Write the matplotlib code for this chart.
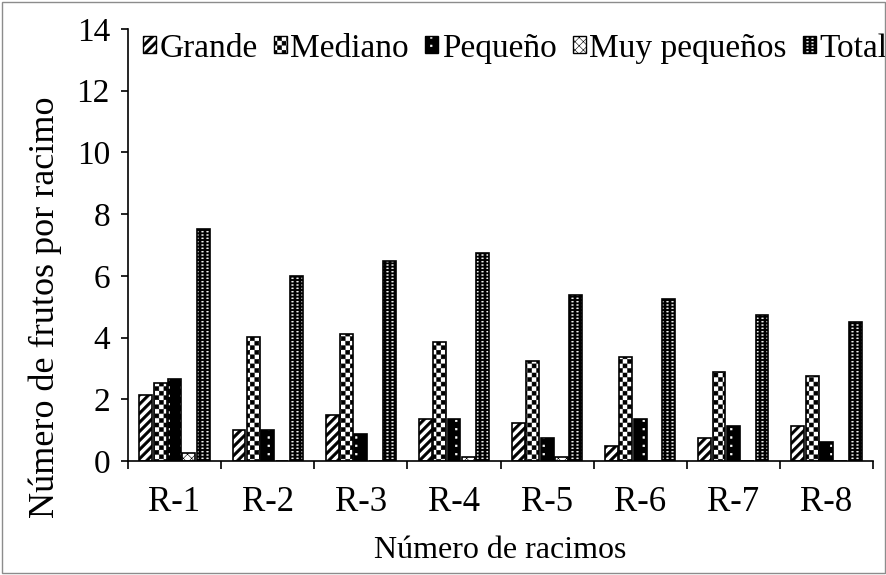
import numpy as np
import matplotlib
matplotlib.use('Agg')
import matplotlib.pyplot as plt
import matplotlib.hatch as mhatch
import matplotlib.patches as mpatches
from matplotlib.path import Path

# data
racimos = ['R-1', 'R-2', 'R-3', 'R-4', 'R-5', 'R-6', 'R-7', 'R-8']
grande = [2.14, 1.0, 1.50, 1.37, 1.24, 0.50, 0.76, 1.12]
mediano = [2.52, 4.01, 4.11, 3.87, 3.25, 3.38, 2.87, 2.74]
pequeno = [2.65, 1.0, 0.88, 1.37, 0.76, 1.37, 1.12, 0.63]
muy_pequenos = [0.25, 0.0, 0.0, 0.13, 0.13, 0.0, 0.0, 0.0]
total = [7.51, 6.0, 6.49, 6.75, 5.37, 5.26, 4.74, 4.49]
series_names = ['Grande', 'Mediano', 'Pequeño', 'Muy pequeños', 'Total']

DPI = 100
plt.rcParams['font.family'] = ['Liberation Serif', 'DejaVu Serif']
plt.rcParams['font.size'] = 24
plt.rcParams['hatch.linewidth'] = 0.4


# --- filled hatch patterns (Excel-like), hooked in place of the unused 'O' hatch ---
# the number of 'O' in the hatch string picks the pattern
def quad(x0, y0, x1, y1):
    return [(x0, y0), (x1, y0), (x1, y1), (x0, y1)]


def checker(n=22):
    s = 1.0 / n
    return [quad(i * s, j * s, (i + 1) * s, (j + 1) * s)
            for i in range(n) for j in range(n) if (i + j) % 2 == 0]


def stripes(n=11, w=0.035):
    polys = []
    for k in range(-n, n + 1):
        c = k / n
        polys.append([(-0.1, -0.1 + c), (1.1, 1.1 + c), (1.1, 1.1 + c + w), (-0.1, -0.1 + c + w)])
    return polys


def square_dots(nx, ny, sx, sy):
    return [quad((i + 0.5) / nx - sx / 2, (j + 0.5) / ny - sy / 2,
                 (i + 0.5) / nx + sx / 2, (j + 0.5) / ny + sy / 2)
            for i in range(nx) for j in range(ny)]


PATTERNS = {
    1: stripes,
    2: checker,
    3: lambda: square_dots(8, 12, 0.022, 0.022),
    4: lambda: square_dots(20, 30, 0.02, 0.014),
}


class FilledHatch(mhatch.HatchPatternBase):
    def __init__(self, hatch, density):
        make = PATTERNS.get(hatch.count('O'))
        self.polys = make() if make else []
        self.num_vertices = 5 * len(self.polys)

    def set_vertices_and_codes(self, vertices, codes):
        # the outline stroke widens the shapes, pull them in by half a line width
        d = plt.rcParams['hatch.linewidth'] / 72.0 / 2.0
        out = []
        for p in self.polys:
            p = np.array(p, dtype=float)
            c = p.mean(axis=0)
            p = p + np.sign(c - p) * d
            out.append(np.vstack([p, p[:1]]))
        vertices[:] = np.concatenate(out)
        codes[:] = np.tile([Path.MOVETO, Path.LINETO, Path.LINETO,
                            Path.LINETO, Path.CLOSEPOLY], len(self.polys))


mhatch._hatch_types[:] = [FilledHatch if t is mhatch.LargeCircles else t
                          for t in mhatch._hatch_types]

# (face colour, hatch colour, hatch)
styles = [('white', 'black', 'O'),
          ('white', 'black', 'OO'),
          ('black', 'white', 'OOO'),
          ('white', 'black', 'xxxx'),
          ('black', 'white', 'OOOO')]

fig = plt.figure(figsize=(8.87, 5.75), dpi=DPI)
ax = fig.add_axes([0.1443, 0.1983, 0.8400, 0.7513])

x = np.arange(len(racimos))
step = 0.154
width = 0.138
data = [grande, mediano, pequeno, muy_pequenos, total]
handles = []
for i, (vals, (fc, hc, h)) in enumerate(zip(data, styles)):
    pos = x + (i - 2) * step
    ax.bar(pos, vals, width, facecolor=fc, edgecolor=hc, linewidth=0, hatch=h)
    ax.bar(pos, vals, width, fill=False, edgecolor='black', linewidth=1.2)
    handles.append((mpatches.Patch(facecolor=fc, edgecolor=hc, linewidth=0, hatch=h),
                    mpatches.Patch(fill=False, edgecolor='black', linewidth=1.0)))

ax.set_xlim(-0.5, len(racimos) - 0.5)
ax.set_ylim(0, 14)
ax.set_yticks(np.arange(0, 15, 2))
ax.set_xticks(x)
ax.set_xticklabels(racimos, fontsize=25)
ax.set_xticks(np.arange(-0.5, len(racimos)), minor=True)
ax.tick_params(axis='x', which='major', length=0, pad=18)
ax.tick_params(axis='x', which='minor', length=6, width=1.2, direction='out')
ax.tick_params(axis='y', length=5, width=1.2, direction='out', pad=8)
for side in ['top', 'right']:
    ax.spines[side].set_visible(False)
for side in ['left', 'bottom']:
    ax.spines[side].set_linewidth(1.2)

ax.set_xlabel('Número de racimos', fontsize=23, labelpad=12)
ax.set_ylabel('Número de frutos por racimo', fontsize=26)
ax.yaxis.set_label_coords(-0.088, 0.355)

ax.legend(handles, series_names, loc='upper left', bbox_to_anchor=(0.02, 0.99),
          ncol=5, frameon=False, handlelength=0.4, handleheight=0.4,
          handletextpad=0.1, columnspacing=0.48, borderaxespad=0, borderpad=0)

# thin grey frame round the whole chart
fig.patches.append(mpatches.Rectangle((0.002, 0.003), 0.996, 0.994, transform=fig.transFigure,
                                      fill=False, edgecolor='#8c8c8c', linewidth=1.0))

fig.savefig('out.png', dpi=DPI)
